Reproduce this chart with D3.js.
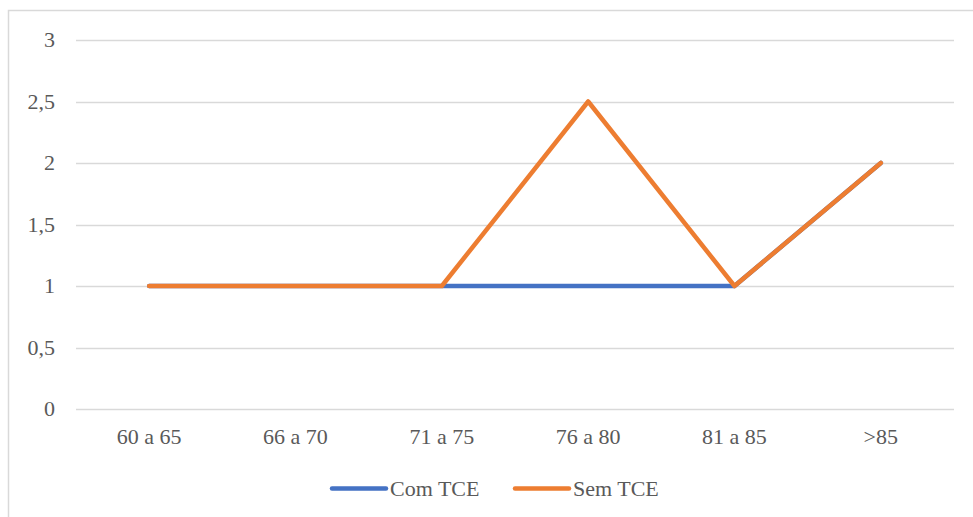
<!DOCTYPE html>
<html><head><meta charset="utf-8">
<script src="https://cdn.jsdelivr.net/npm/d3@7"></script>
<style>body{margin:0;background:#fff;font-family:"Liberation Serif",serif}svg{display:block}svg text{font-family:"Liberation Serif",Times,serif}</style>
</head><body><svg id="c" width="973" height="517" font-family="serif"></svg>
<script>
const categories = ["60 a 65","66 a 70","71 a 75","76 a 80","81 a 85",">85"];
const comTCE = [1,1,1,1,1,2];
const semTCE = [1,1,1,2.5,1,2];
const yTicks = [0,0.5,1,1.5,2,2.5,3];
const seriesNames = ["Com TCE","Sem TCE"];
const colors = ["#4472C4","#ED7D31"];
const TXT = "#595959";

const svg = d3.select("#c");
svg.append("rect").attr("x",8.5).attr("y",10.5).attr("width",1000).attr("height",600)
  .attr("fill","none").attr("stroke","#D9D9D9").attr("stroke-width",1.5);

const x = d3.scaleBand().domain(categories).range([76,954]);
const y = d3.scaleLinear().domain([0,3]).range([409,40]);
const fmt = v => String(v).replace(".",",");

svg.append("g").selectAll("line").data(yTicks).join("line")
  .attr("x1",76).attr("x2",954).attr("y1",d=>Math.round(y(d))+0.5).attr("y2",d=>Math.round(y(d))+0.5)
  .attr("stroke","#D9D9D9").attr("stroke-width",1.3);

svg.append("g").selectAll("text").data(yTicks).join("text")
  .attr("x",55).attr("y",d=>y(d)+7).attr("text-anchor","end")
  .attr("font-family","serif").attr("fill",TXT).attr("font-size",22).text(fmt);

svg.append("g").selectAll("text").data(categories).join("text")
  .attr("x",d=>x(d)+x.bandwidth()/2).attr("y",444).attr("text-anchor","middle")
  .attr("font-family","serif").attr("fill",TXT).attr("font-size",22).text(d=>d);

const line = d3.line().x((d,i)=>x(categories[i])+x.bandwidth()/2).y(d=>y(d));
[comTCE, semTCE].forEach((s,i)=>{
  svg.append("path").datum(s).attr("d",line).attr("fill","none")
    .attr("stroke",colors[i]).attr("stroke-width",4.5).attr("stroke-linejoin","round").attr("stroke-linecap","round");
});

const legX = [332, 515];
seriesNames.forEach((n,i)=>{
  svg.append("line").attr("x1",legX[i]).attr("x2",legX[i]+54).attr("y1",488.5).attr("y2",488.5)
    .attr("stroke",colors[i]).attr("stroke-width",4.5).attr("stroke-linecap","round");
  svg.append("text").attr("x",legX[i]+58).attr("y",495.5).attr("font-size",22)
    .attr("font-family","serif").attr("fill",TXT).text(n);
});
</script></body></html>
